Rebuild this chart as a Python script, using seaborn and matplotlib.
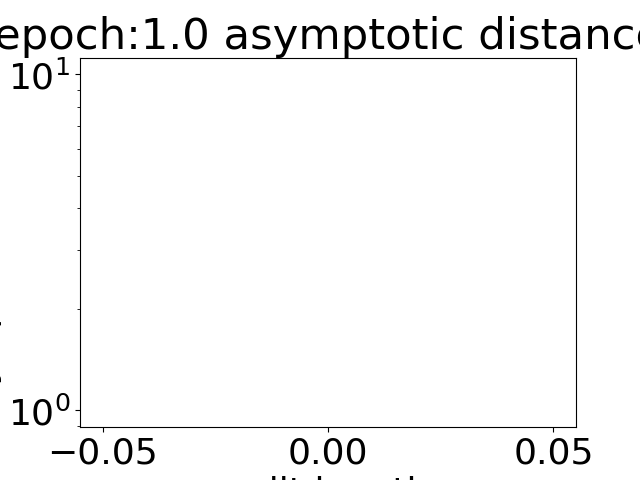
import matplotlib
matplotlib.use("Agg")
import matplotlib.pyplot as plt
import seaborn as sns
import pandas as pd

# data: a single run, drawn as a one-point line (invisible)
x_values = [0.0]
y_values = [3.0]
title_text = "epoch:1.0 asymptotic distance"
x_label = "split length"
y_label = "asymptotic distance"

plt.rcParams['font.size'] = 26

df = pd.DataFrame({"x": x_values, "y": y_values})
fig, ax = plt.subplots(figsize=(6.4, 4.8), dpi=100)
sns.lineplot(data=df, x="x", y="y", ax=ax)
ax.set_yscale("log")
ax.set_title(title_text)
ax.set_xlabel(x_label)
ax.set_ylabel(y_label)
fig.savefig("out.png", dpi=100)
